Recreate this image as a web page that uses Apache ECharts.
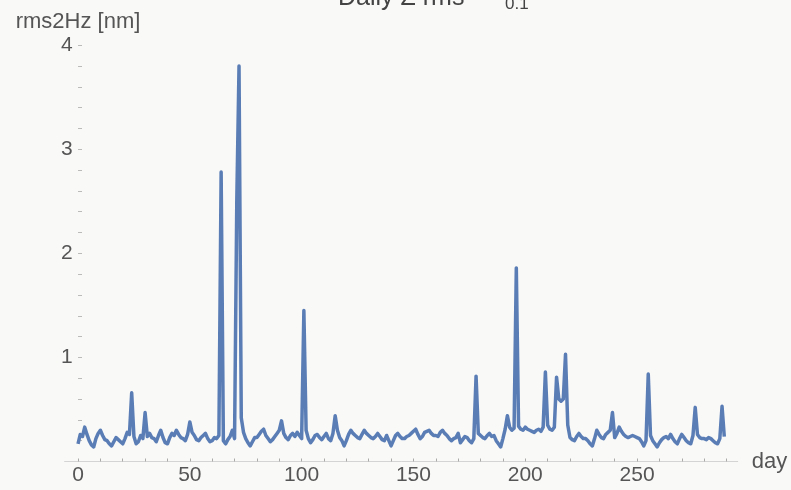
<!DOCTYPE html>
<html>
<head>
<meta charset="utf-8">
<script src="https://cdn.jsdelivr.net/npm/echarts@6/dist/echarts.min.js"></script>
<style>
html,body{margin:0;padding:0;background:#f9f9f8;}
#chart{width:791px;height:490px;}
</style>
</head>
<body>
<div id="chart"></div>
<script>
// daily values, index = day number (0..289)
const rmsValues = [
  0.17, 0.26, 0.24, 0.33, 0.26, 0.20, 0.16, 0.14, 0.22, 0.27,
  0.30, 0.25, 0.21, 0.20, 0.17, 0.15, 0.19, 0.23, 0.21, 0.19,
  0.17, 0.22, 0.28, 0.26, 0.66, 0.24, 0.17, 0.19, 0.25, 0.22,
  0.47, 0.24, 0.27, 0.23, 0.22, 0.19, 0.25, 0.30, 0.23, 0.18,
  0.17, 0.23, 0.27, 0.25, 0.30, 0.26, 0.23, 0.22, 0.20, 0.26,
  0.38, 0.28, 0.25, 0.21, 0.20, 0.23, 0.25, 0.27, 0.22, 0.19,
  0.20, 0.23, 0.22, 0.25, 2.78, 0.20, 0.17, 0.21, 0.24, 0.30,
  0.22, 2.50, 3.80, 0.42, 0.28, 0.22, 0.18, 0.15, 0.19, 0.23,
  0.23, 0.26, 0.29, 0.31, 0.25, 0.22, 0.19, 0.21, 0.24, 0.27,
  0.30, 0.39, 0.27, 0.23, 0.21, 0.25, 0.27, 0.24, 0.28, 0.25,
  0.22, 1.45, 0.30, 0.22, 0.18, 0.21, 0.25, 0.26, 0.23, 0.21,
  0.24, 0.27, 0.22, 0.20, 0.27, 0.44, 0.30, 0.23, 0.20, 0.15,
  0.20, 0.26, 0.30, 0.27, 0.25, 0.23, 0.22, 0.26, 0.30, 0.27,
  0.25, 0.23, 0.22, 0.24, 0.27, 0.24, 0.21, 0.20, 0.25, 0.20,
  0.15, 0.20, 0.25, 0.27, 0.24, 0.22, 0.22, 0.24, 0.25, 0.27,
  0.29, 0.31, 0.26, 0.22, 0.24, 0.28, 0.29, 0.30, 0.27, 0.25,
  0.25, 0.24, 0.28, 0.30, 0.27, 0.25, 0.22, 0.20, 0.22, 0.23,
  0.27, 0.18, 0.21, 0.24, 0.23, 0.20, 0.18, 0.22, 0.82, 0.27,
  0.25, 0.23, 0.22, 0.25, 0.27, 0.24, 0.25, 0.20, 0.17, 0.14,
  0.22, 0.31, 0.44, 0.33, 0.30, 0.32, 1.86, 0.34, 0.31, 0.30,
  0.33, 0.31, 0.30, 0.29, 0.28, 0.30, 0.31, 0.29, 0.33, 0.86,
  0.35, 0.31, 0.30, 0.33, 0.81, 0.60, 0.58, 0.60, 1.03, 0.35,
  0.23, 0.21, 0.20, 0.24, 0.27, 0.24, 0.22, 0.22, 0.20, 0.17,
  0.15, 0.22, 0.30, 0.26, 0.23, 0.22, 0.26, 0.28, 0.30, 0.47,
  0.23, 0.27, 0.33, 0.29, 0.26, 0.24, 0.23, 0.24, 0.25, 0.24,
  0.23, 0.22, 0.19, 0.15, 0.20, 0.84, 0.25, 0.20, 0.17, 0.14,
  0.18, 0.21, 0.23, 0.24, 0.22, 0.26, 0.22, 0.19, 0.17, 0.22,
  0.26, 0.23, 0.20, 0.18, 0.17, 0.25, 0.52, 0.26, 0.23, 0.22,
  0.22, 0.21, 0.23, 0.22, 0.20, 0.18, 0.17, 0.22, 0.53, 0.24
];

const xTickLabels = [0, 50, 100, 150, 200, 250];
const xTickMarks = [0,10,20,30,40,50,60,70,80,90,100,110,120,130,140,150,160,170,180,190,200,210,220,230,240,250,260,270,280,290];
const yTickLabels = [1, 2, 3, 4];
const yTickMarks = [0.2,0.4,0.6,0.8,1,1.2,1.4,1.6,1.8,2,2.2,2.4,2.6,2.8,3,3.2,3.4,3.6,3.8,4];

const titleMain = 'Daily Z rms';
const titleSub = '0.1';
const xName = 'day';
const yName = 'rms2Hz [nm]';

const seriesData = rmsValues.map((v, i) => [i, v]);

const font = 'Liberation Sans, Arial, sans-serif';
const chart = echarts.init(document.getElementById('chart'), null, {renderer: 'canvas'});
chart.setOption({
  animation: false,
  backgroundColor: '#f9f9f8',
  title: [
    {text: titleMain, left: 338, top: -14, padding: 0,
     textStyle: {fontFamily: font, fontSize: 25, fontWeight: 'normal', color: '#444', lineHeight: 25}},
    {text: titleSub, left: 505, top: -4, padding: 0,
     textStyle: {fontFamily: font, fontSize: 17, fontWeight: 'normal', color: '#444', lineHeight: 17}}
  ],
  grid: {left: 64.6, right: 53.3, top: 29.5, bottom: 28.5, containLabel: false},
  xAxis: {
    type: 'value', min: -6, max: 295,
    name: xName, nameLocation: 'end', nameGap: 14,
    nameTextStyle: {fontFamily: font, fontSize: 22, color: '#555', verticalAlign: 'middle'},
    axisLine: {onZero: true, lineStyle: {color: '#d4d4d4', width: 1}},
    axisTick: {show: true, inside: true, length: 3, customValues: xTickMarks, lineStyle: {color: '#aaa'}},
    axisLabel: {customValues: xTickLabels, fontFamily: font, fontSize: 21, color: '#555', margin: 3},
    splitLine: {show: false}
  },
  yAxis: {
    type: 'value', min: 0, max: 4.15,
    name: yName, nameLocation: 'end', nameGap: 8,
    nameTextStyle: {fontFamily: font, fontSize: 22, color: '#555', align: 'center', verticalAlign: 'middle'},
    axisLine: {show: true, onZero: true, lineStyle: {color: '#f0f0f0', width: 1, opacity: 0}},
    axisTick: {show: true, inside: true, length: 4, customValues: yTickMarks, lineStyle: {color: '#bbb'}},
    axisLabel: {customValues: yTickLabels, fontFamily: font, fontSize: 21, color: '#555', margin: -8},
    splitLine: {show: false}
  },
  series: [{
    type: 'line',
    data: seriesData,
    showSymbol: false,
    lineStyle: {color: '#5A7DB5', width: 3.5, join: 'round'},
    itemStyle: {color: '#5A7DB5'}
  }]
});
</script>
</body>
</html>
